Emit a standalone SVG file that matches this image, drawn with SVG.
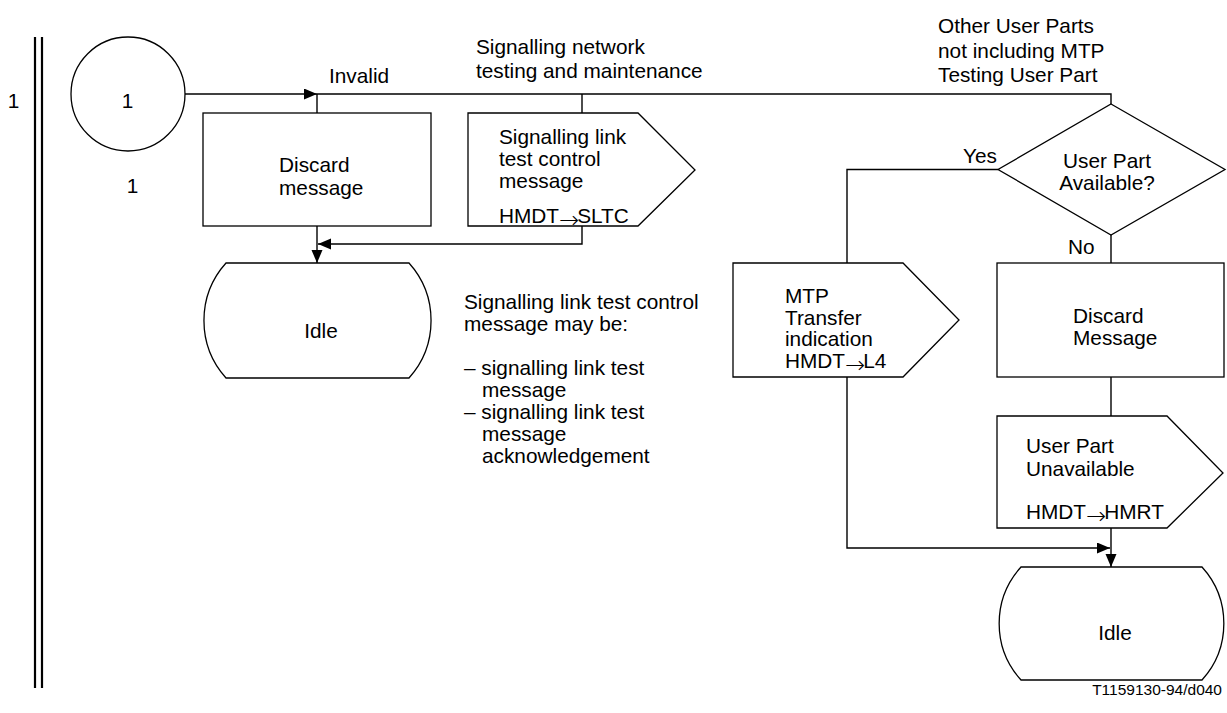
<svg xmlns="http://www.w3.org/2000/svg" width="1227" height="713" viewBox="0 0 1227 713">
<style>
text{font-family:"Liberation Sans",Arial,sans-serif;font-size:20.8px;fill:#000}
.shape{fill:#fff;stroke:#000;stroke-width:1.3}
.conn{fill:none;stroke:#000;stroke-width:1.4}
.bar{stroke:#000;stroke-width:2.2}
.mid{text-anchor:middle}
.arw{font-family:"DejaVu Sans",sans-serif;font-size:24px;font-weight:200}
.foot{font-size:15.5px;text-anchor:end}
</style>
<defs>
<marker id="ah" markerUnits="userSpaceOnUse" markerWidth="14" markerHeight="12" refX="13" refY="5.5" orient="auto">
<path d="M0,0 L13,5.5 L0,11 Z" fill="#000"/>
</marker>
</defs>
<g id="frame">
<line class="bar" x1="35" y1="37" x2="35" y2="688"/>
<line class="bar" x1="42" y1="37" x2="42" y2="688"/>
<text x="13.5" y="108" class="mid">1</text>
</g>
<g id="connectors">
<path class="conn" d="M185,94 H317" marker-end="url(#ah)"/>
<path class="conn" d="M317,94 H1111 V104"/>
<path class="conn" d="M317,94 V113"/>
<path class="conn" d="M582,94 V113"/>
<path class="conn" d="M317,226 V263" marker-end="url(#ah)"/>
<path class="conn" d="M582,226 V244 H318" marker-end="url(#ah)"/>
<path class="conn" d="M998,169.5 H847 V263"/>
<path class="conn" d="M1111,235 V263"/>
<path class="conn" d="M1111,377 V416"/>
<path class="conn" d="M847,377 V548 H1110" marker-end="url(#ah)"/>
<path class="conn" d="M1111,528 V567" marker-end="url(#ah)"/>
</g>
<g id="labels">
<text x="329" y="83">Invalid</text>
<text x="476" y="54">Signalling network</text>
<text x="476" y="78">testing and maintenance</text>
<text x="938" y="33">Other User Parts</text>
<text x="938" y="58">not including MTP</text>
<text x="938" y="82">Testing User Part</text>
<text x="963" y="163">Yes</text>
<text x="1068" y="254">No</text>
</g>
<g id="connector-start">
<circle class="shape" cx="128" cy="94" r="57"/>
<text x="127.5" y="108" class="mid">1</text>
<text x="132.5" y="193" class="mid">1</text>
</g>
<g id="discard1">
<rect class="shape" x="203" y="113" width="228" height="113"/>
<text x="279" y="172">Discard</text>
<text x="279" y="195">message</text>
</g>
<g id="sltc">
<path class="shape" d="M468,113 H638 L695,170 L638,226 H468 Z"/>
<text x="499" y="144">Signalling link</text>
<text x="499" y="166">test control</text>
<text x="499" y="188">message</text>
<text x="499" y="223">HMDT<tspan class="arw" dy="5">→</tspan><tspan dy="-5" dx="-2">SLTC</tspan></text>
</g>
<g id="idle1">
<path class="shape" d="M226,263 H409 A86,86 0 0 1 409,378 H226 A86,86 0 0 1 226,263 Z"/>
<text x="321" y="338" class="mid">Idle</text>
</g>
<g id="note">
<text x="464" y="309">Signalling link test control</text>
<text x="464" y="331">message may be:</text>
<text x="464" y="375">– signalling link test</text>
<text x="482" y="397">message</text>
<text x="464" y="419">– signalling link test</text>
<text x="482" y="441">message</text>
<text x="482" y="463">acknowledgement</text>
</g>
<g id="decision">
<path class="shape" d="M1111,104 L1225,169.5 L1111,235 L998,169.5 Z"/>
<text x="1107" y="168" class="mid">User Part</text>
<text x="1107" y="190" class="mid">Available?</text>
</g>
<g id="mtp">
<path class="shape" d="M733,263 H903 L959,320 L903,377 H733 Z"/>
<text x="785" y="303">MTP</text>
<text x="785" y="325">Transfer</text>
<text x="785" y="346">indication</text>
<text x="785" y="368">HMDT<tspan class="arw" dy="5">→</tspan><tspan dy="-5" dx="-2">L4</tspan></text>
</g>
<g id="discard2">
<rect class="shape" x="997" y="263" width="227" height="114"/>
<text x="1073" y="323">Discard</text>
<text x="1073" y="345">Message</text>
</g>
<g id="unavail">
<path class="shape" d="M997,416 H1167 L1223,473 L1167,528 H997 Z"/>
<text x="1026" y="453">User Part</text>
<text x="1026" y="476">Unavailable</text>
<text x="1026" y="519">HMDT<tspan class="arw" dy="5">→</tspan><tspan dy="-5" dx="-2">HMRT</tspan></text>
</g>
<g id="idle2">
<path class="shape" d="M1021,567 H1202 A84,84 0 0 1 1202,680 H1021 A84,84 0 0 1 1021,567 Z"/>
<text x="1115" y="640" class="mid">Idle</text>
</g>
<text x="1222" y="695" class="foot">T1159130-94/d040</text>
</svg>
